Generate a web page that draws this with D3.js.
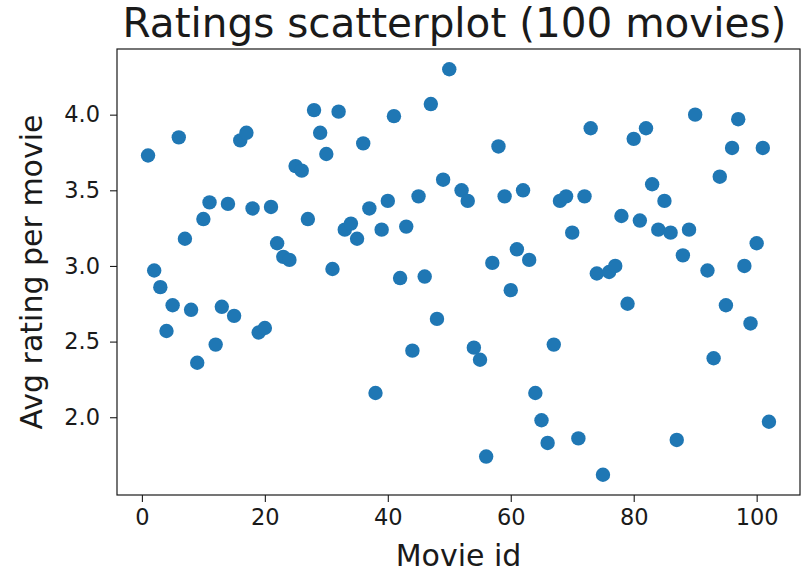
<!DOCTYPE html>
<html>
<head>
<meta charset="utf-8">
<script src="https://cdn.jsdelivr.net/npm/d3@7"></script>
<style>
  html, body { margin: 0; padding: 0; background: #fff; }
  svg { display: block; font-family: "DejaVu Sans", sans-serif; }
</style>
</head>
<body>
<svg id="chart" width="802" height="572"></svg>
<script>
// Movie ids (51 and 91 have no ratings)
const movieIds = [
  1, 2, 3, 4, 5, 6, 7, 8, 9, 10,
  11, 12, 13, 14, 15, 16, 17, 18, 19, 20,
  21, 22, 23, 24, 25, 26, 27, 28, 29, 30,
  31, 32, 33, 34, 35, 36, 37, 38, 39, 40,
  41, 42, 43, 44, 45, 46, 47, 48, 49, 50,
  52, 53, 54, 55, 56, 57, 58, 59, 60,
  61, 62, 63, 64, 65, 66, 67, 68, 69, 70,
  71, 72, 73, 74, 75, 76, 77, 78, 79, 80,
  81, 82, 83, 84, 85, 86, 87, 88, 89, 90,
  92, 93, 94, 95, 96, 97, 98, 99, 100,
  101, 102
];

// Average rating for each movie id above
const avgRatings = [
  3.73, 2.97, 2.86, 2.57, 2.74, 3.85, 3.18, 2.71, 2.36, 3.31,
  3.42, 2.48, 2.73, 3.41, 2.67, 3.83, 3.88, 3.38, 2.56, 2.59,
  3.39, 3.15, 3.06, 3.04, 3.66, 3.63, 3.31, 4.03, 3.88, 3.74,
  2.98, 4.02, 3.24, 3.28, 3.18, 3.81, 3.38, 2.16, 3.24, 3.43,
  3.99, 2.92, 3.26, 2.44, 3.46, 2.93, 4.07, 2.65, 3.57, 4.30,
  3.50, 3.43, 2.46, 2.38, 1.74, 3.02, 3.79, 3.46, 2.84,
  3.11, 3.50, 3.04, 2.16, 1.98, 1.83, 2.48, 3.43, 3.46, 3.22,
  1.86, 3.46, 3.91, 2.95, 1.62, 2.96, 3.00, 3.33, 2.75, 3.84,
  3.30, 3.91, 3.54, 3.24, 3.43, 3.22, 1.85, 3.07, 3.24, 4.00,
  2.97, 2.39, 3.59, 2.74, 3.78, 3.97, 3.00, 2.62, 3.15,
  3.78, 1.97
];

const xTicks = [0, 20, 40, 60, 80, 100];
const yTicks = [2.0, 2.5, 3.0, 3.5, 4.0];

const titleText = "Ratings scatterplot (100 movies)";
const xLabelText = "Movie id";
const yLabelText = "Avg rating per movie";

const points = movieIds.map((id, i) => ({ id, rating: avgRatings[i] }));

const svg = d3.select("#chart");
const plot = { left: 117, right: 800, top: 49, bottom: 495 };

// 5% padding around the data extent on both axes
function padded(ext) {
  const span = ext[1] - ext[0];
  return [ext[0] - span * 0.05, ext[1] + span * 0.05];
}

const x = d3.scaleLinear()
  .domain(padded(d3.extent(movieIds)))
  .range([plot.left, plot.right]);

const y = d3.scaleLinear()
  .domain(padded(d3.extent(avgRatings)))
  .range([plot.bottom, plot.top]);

const ink = "#1a1a1a";

// markers
svg.append("g")
  .selectAll("circle")
  .data(points)
  .join("circle")
  .attr("cx", d => x(d.id))
  .attr("cy", d => y(d.rating))
  .attr("r", 7.2)
  .attr("fill", "#1f77b4");

// axes
const xAxis = svg.append("g")
  .attr("transform", `translate(0,${plot.bottom})`)
  .call(d3.axisBottom(x).tickValues(xTicks).tickFormat(d3.format("d"))
    .tickSize(7).tickPadding(7));

const yAxis = svg.append("g")
  .attr("transform", `translate(${plot.left},0)`)
  .call(d3.axisLeft(y).tickValues(yTicks).tickFormat(d3.format(".1f"))
    .tickSize(7).tickPadding(10));

[xAxis, yAxis].forEach(g => {
  g.select(".domain").remove();
  g.selectAll(".tick line").attr("stroke", ink).attr("stroke-width", 1.1);
  g.selectAll(".tick text")
    .attr("fill", ink)
    .style("font-family", "'DejaVu Sans', sans-serif")
    .style("font-size", "22.5px");
});

// frame
svg.append("rect")
  .attr("x", plot.left)
  .attr("y", plot.top)
  .attr("width", plot.right - plot.left)
  .attr("height", plot.bottom - plot.top)
  .attr("fill", "none")
  .attr("stroke", ink)
  .attr("stroke-width", 1.2);

// title and axis labels
svg.append("text")
  .attr("x", (plot.left + plot.right) / 2 - 4)
  .attr("y", 37)
  .attr("text-anchor", "middle")
  .attr("fill", ink)
  .style("font-size", "40.5px")
  .text(titleText);

svg.append("text")
  .attr("x", (plot.left + plot.right) / 2)
  .attr("y", 566)
  .attr("text-anchor", "middle")
  .attr("fill", ink)
  .style("font-size", "30px")
  .text(xLabelText);

svg.append("text")
  .attr("transform", `translate(42,${(plot.top + plot.bottom) / 2}) rotate(-90)`)
  .attr("text-anchor", "middle")
  .attr("fill", ink)
  .style("font-size", "30px")
  .text(yLabelText);
</script>
</body>
</html>
